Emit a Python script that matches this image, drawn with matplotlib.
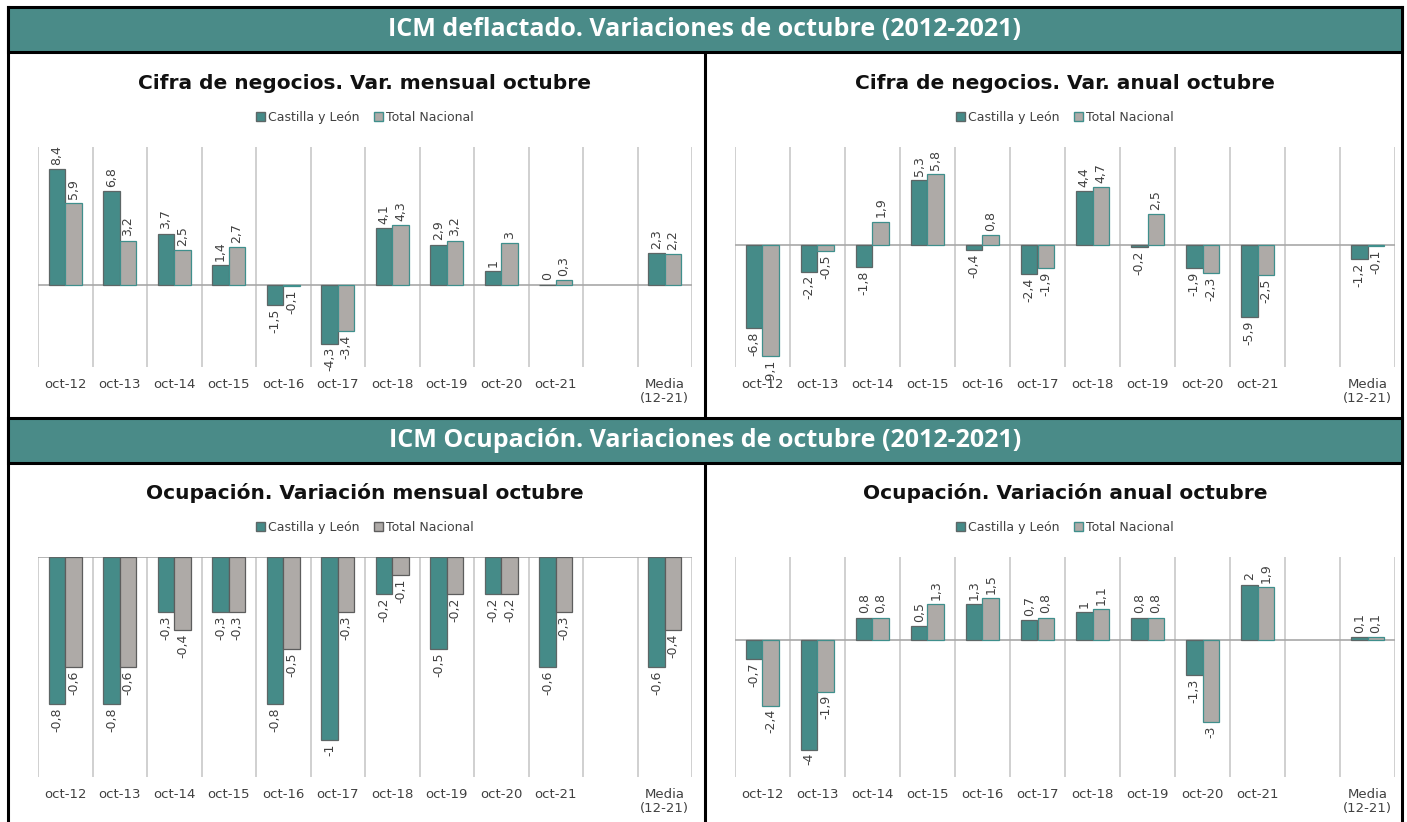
import numpy as np
import matplotlib
matplotlib.use("Agg")
import matplotlib.pyplot as plt
from matplotlib.patches import Rectangle
from matplotlib.lines import Line2D

# --- data ---
categories = ['oct-12', 'oct-13', 'oct-14', 'oct-15', 'oct-16', 'oct-17',
              'oct-18', 'oct-19', 'oct-20', 'oct-21', '', 'Media\n(12-21)']
series_names = ['Castilla y León', 'Total Nacional']

cifra_mensual_cyl = [8.4, 6.8, 3.7, 1.4, -1.5, -4.3, 4.1, 2.9, 1, 0, None, 2.3]
cifra_mensual_tn = [5.9, 3.2, 2.5, 2.7, -0.1, -3.4, 4.3, 3.2, 3, 0.3, None, 2.2]

cifra_anual_cyl = [-6.8, -2.2, -1.8, 5.3, -0.4, -2.4, 4.4, -0.2, -1.9, -5.9, None, -1.2]
cifra_anual_tn = [-9.1, -0.5, 1.9, 5.8, 0.8, -1.9, 4.7, 2.5, -2.3, -2.5, None, -0.1]

ocup_mensual_cyl = [-0.8, -0.8, -0.3, -0.3, -0.8, -1, -0.2, -0.5, -0.2, -0.6, None, -0.6]
ocup_mensual_tn = [-0.6, -0.6, -0.4, -0.3, -0.5, -0.3, -0.1, -0.2, -0.2, -0.3, None, -0.4]

ocup_anual_cyl = [-0.7, -4, 0.8, 0.5, 1.3, 0.7, 1, 0.8, -1.3, 2, None, 0.1]
ocup_anual_tn = [-2.4, -1.9, 0.8, 1.3, 1.5, 0.8, 1.1, 0.8, -3, 1.9, None, 0.1]

header_1 = 'ICM deflactado. Variaciones de octubre (2012-2021)'
header_2 = 'ICM Ocupación. Variaciones de octubre (2012-2021)'

# --- style ---
TEAL = '#458b88'
GRAY = '#aeaaa7'
HEADER = '#4a8b88'
W, H = 1407, 822

plt.rcParams['font.family'] = ['DejaVu Sans']

fig = plt.figure(figsize=(W / 100, H / 100), dpi=100)


def px_box(x0, y0, x1, y1):
    # pixel box (top-left origin) -> figure fraction [left, bottom, width, height]
    return [x0 / W, 1 - y1 / H, (x1 - x0) / W, (y1 - y0) / H]


def fmt(v):
    s = f'{v:g}'.replace('.', ',')
    return s


def draw_panel(box, title, cyl, tn, ylim, tn_edge):
    ax = fig.add_axes(px_box(*box))
    x = np.arange(len(categories))
    bw = 0.30
    for vals, off, color, edge in [(cyl, -bw / 2, TEAL, '#5d6666'),
                                   (tn, bw / 2, GRAY, tn_edge)]:
        for xi, v in zip(x, vals):
            if v is None:
                continue
            ax.bar(xi + off, v, width=bw, color=color, edgecolor=edge,
                   linewidth=0.9, zorder=3)
            if v >= 0:
                ax.annotate(fmt(v), (xi + off, v), xytext=(0, 3),
                            textcoords='offset points', rotation=90,
                            ha='center', va='bottom', fontsize=9,
                            color='#404040', zorder=4)
            else:
                ax.annotate(fmt(v), (xi + off, v), xytext=(0, -2.5),
                            textcoords='offset points', rotation=90,
                            ha='center', va='top', fontsize=9,
                            color='#404040', zorder=4)
    for b in np.arange(-0.5, len(categories), 1):
        ax.axvline(b, color='#c4c4c4', linewidth=1.1, zorder=1)
    ax.axhline(0, color='#a8a8a8', linewidth=1.2, zorder=2)
    ax.set_xlim(-0.5, len(categories) - 0.5)
    ax.set_ylim(*ylim)
    ax.set_xticks(x)
    ax.set_xticklabels(categories, fontsize=9.5, color='#404040',
                       linespacing=1.1)
    ax.tick_params(axis='x', length=0, pad=8)
    ax.set_yticks([])
    for s in ax.spines.values():
        s.set_visible(False)
    ax.text(0.5, 1.29, title, transform=ax.transAxes, ha='center',
            va='center', fontsize=14.5, fontweight='bold', color='#111111')
    handles = [Rectangle((0, 0), 1, 1, facecolor=TEAL, edgecolor='#5d6666'),
               Rectangle((0, 0), 1, 1, facecolor=GRAY, edgecolor=tn_edge)]
    ax.legend(handles, series_names, loc='center',
              bbox_to_anchor=(0.5, 1.135), ncol=2, frameon=False,
              fontsize=9, handlelength=0.7, handleheight=0.7,
              handletextpad=0.25, columnspacing=1.2,
              labelcolor='#404040')
    return ax


draw_panel((38, 147, 692, 367), 'Cifra de negocios. Var. mensual octubre',
           cifra_mensual_cyl, cifra_mensual_tn, (-6, 10), '#3f8f8c')
draw_panel((735, 147, 1395, 367), 'Cifra de negocios. Var. anual octubre',
           cifra_anual_cyl, cifra_anual_tn, (-10, 8), '#3f8f8c')
draw_panel((38, 557, 692, 777), 'Ocupación. Variación mensual octubre',
           ocup_mensual_cyl, ocup_mensual_tn, (-1.2, 0), '#5d5d5d')
draw_panel((735, 557, 1395, 777), 'Ocupación. Variación anual octubre',
           ocup_anual_cyl, ocup_anual_tn, (-5, 3), '#3f8f8c')

# --- headers and frame ---
def fx(px):
    return px / W


def fy(py):
    return 1 - py / H


for (y0, y1, text) in [(7, 52, header_1), (418, 463, header_2)]:
    fig.patches.append(Rectangle((fx(8), fy(y1)), fx(1402) - fx(8),
                                 fy(y0) - fy(y1), facecolor=HEADER,
                                 edgecolor='black', linewidth=2.2,
                                 transform=fig.transFigure, zorder=5))
    fig.text(fx(705), fy((y0 + y1) / 2), text, ha='center', va='center',
             color='white', fontsize=18, fontweight='bold',
             family=['Open Sans', 'DejaVu Sans'], zorder=6)

frame_lines = [((8, 8), (7, 822)), ((1402, 1402), (7, 822)),
               ((705, 705), (52, 418)), ((705, 705), (463, 822))]
for xs, ys in frame_lines:
    fig.lines.append(Line2D([fx(xs[0]), fx(xs[1])], [fy(ys[0]), fy(ys[1])],
                            color='black', linewidth=2.2,
                            transform=fig.transFigure, zorder=5))

fig.savefig('out.png', dpi=100, facecolor='white')
